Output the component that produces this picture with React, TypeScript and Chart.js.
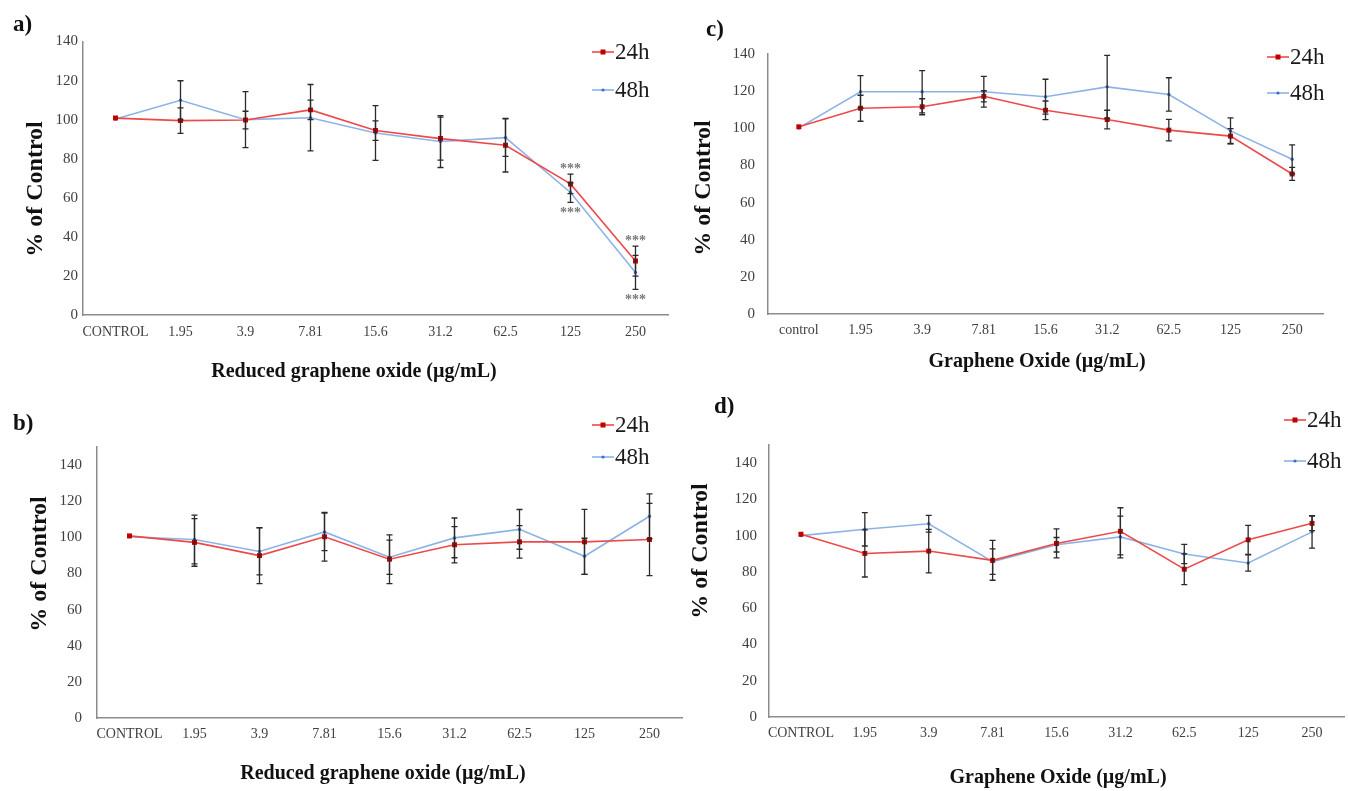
import React, { useEffect, useRef } from "react";
import { Chart, registerables } from "chart.js";

Chart.register(...registerables);

// ---------- DATA ----------
const CATS_UPPER = ["CONTROL", "1.95", "3.9", "7.81", "15.6", "31.2", "62.5", "125", "250"];
const CATS_LOWER = ["control", "1.95", "3.9", "7.81", "15.6", "31.2", "62.5", "125", "250"];
const SERIES = ["24h", "48h"];
const Y_STEP = 20;

// a) Reduced graphene oxide
const a24 = [100.8, 99.5, 99.8, 105.0, 94.4, 90.3, 86.9, 67.1, 27.6];
const a48 = [100.3, 109.9, 100.0, 101.0, 93.2, 88.8, 90.8, 62.7, 21.8];
const a24Err = [0, 6.5, 4.5, 5, 5, 11, 13.7, 5, 7.7];
const a48Err = [0, 10, 14.3, 17, 14, 13.3, 9.6, 5, 8.7];
const aStars = [7, 8];

// c) Graphene oxide
const c24 = [100.8, 110.8, 111.6, 117.2, 109.7, 104.7, 99.0, 95.8, 75.4];
const c48 = [100.2, 119.7, 119.7, 119.7, 117.0, 122.3, 118.2, 98.6, 83.3];
const c24Err = [0, 7, 4.3, 3, 5, 5, 5.8, 4, 3.5];
const c48Err = [0, 8.7, 11.4, 8.3, 9.4, 17, 9, 7, 7.8];

// b) Reduced graphene oxide
const b24 = [100.8, 97.2, 89.9, 100.3, 87.9, 95.9, 97.5, 97.5, 98.8];
const b48 = [100.3, 98.8, 92.2, 103.0, 89.0, 99.7, 104.4, 89.5, 111.7];
const b24Err = [0, 13.2, 15.5, 13.5, 13.5, 10, 9, 18, 20];
const b48Err = [0, 13.5, 13, 10.4, 9.5, 11, 11, 10, 12.4];

// d) Graphene oxide
const d24 = [100.8, 90.2, 91.5, 86.4, 95.7, 102.4, 81.5, 97.7, 106.8];
const d48 = [100.0, 103.5, 106.6, 85.7, 95.0, 99.3, 89.9, 84.9, 102.1];
const d24Err = [0, 13, 12, 11, 8, 13, 8.5, 8, 4];
const d48Err = [0, 9.2, 4.6, 7, 4, 11.5, 5.3, 4.5, 9];

// ---------- STYLE ----------
const SERIF = "'Liberation Serif', 'Times New Roman', serif";
const RED_LINE = "#ec4a4a";
const RED_PT = "#c00000";
const BLUE_LINE = "#8db3e6";
const BLUE_PT = "#3a6fd0";
const AXIS = "#8c8c8c";
const TICK = "#404040";
const ERR = "#2a2a2a";
const Y_W = 40;
const X_H = 30;

type Spec = {
  key: string;
  letter: string;
  labels: string[];
  s24: number[];
  s48: number[];
  e24: number[];
  e48: number[];
  stars: number[];
  yMax: number;
  canvas: { left: number; top: number; width: number; height: number };
  area: { l: number; r: number; t: number; b: number };
  yTickPad: number;
  xTickPad: number;
  yTitle: { x: number; y: number };
  xTitle: { text: string; x: number; y: number };
  letterPos: { x: number; y: number };
  legend: { x: number; y: number[] };
};

const PANELS: Spec[] = [
  {
    key: "a", letter: "a)", labels: CATS_UPPER, s24: a24, s48: a48, e24: a24Err, e48: a48Err, stars: aStars, yMax: 140,
    canvas: { left: 0, top: 0, width: 690, height: 395 },
    area: { l: 83, r: 668, t: 41.5, b: 315 },
    yTickPad: 5, xTickPad: 9,
    yTitle: { x: 36, y: 189 },
    xTitle: { text: "Reduced graphene oxide (µg/mL)", x: 354, y: 372 },
    letterPos: { x: 13, y: 25 },
    legend: { x: 592, y: [52, 90] },
  },
  {
    key: "c", letter: "c)", labels: CATS_LOWER, s24: c24, s48: c48, e24: c24Err, e48: c48Err, stars: [], yMax: 140,
    canvas: { left: 674, top: 0, width: 674, height: 395 },
    area: { l: 768, r: 1323, t: 54, b: 314 },
    yTickPad: 13, xTickPad: 8,
    yTitle: { x: 704, y: 188 },
    xTitle: { text: "Graphene Oxide (µg/mL)", x: 1037, y: 362 },
    letterPos: { x: 706, y: 30 },
    legend: { x: 1267, y: [57, 93] },
  },
  {
    key: "b", letter: "b)", labels: CATS_UPPER, s24: b24, s48: b48, e24: b24Err, e48: b48Err, stars: [], yMax: 150,
    canvas: { left: 0, top: 395, width: 700, height: 396 },
    area: { l: 97, r: 682, t: 447, b: 718 },
    yTickPad: 15, xTickPad: 8,
    yTitle: { x: 40, y: 564 },
    xTitle: { text: "Reduced graphene oxide (µg/mL)", x: 383, y: 774 },
    letterPos: { x: 13, y: 424 },
    legend: { x: 592, y: [425, 457] },
  },
  {
    key: "d", letter: "d)", labels: CATS_UPPER, s24: d24, s48: d48, e24: d24Err, e48: d48Err, stars: [], yMax: 150,
    canvas: { left: 674, top: 395, width: 674, height: 396 },
    area: { l: 769, r: 1347, t: 445, b: 717 },
    yTickPad: 12, xTickPad: 8,
    yTitle: { x: 701, y: 551 },
    xTitle: { text: "Graphene Oxide (µg/mL)", x: 1058, y: 778 },
    letterPos: { x: 714, y: 407 },
    legend: { x: 1284, y: [420, 461] },
  },
];

function Panel({ spec }: { spec: Spec }) {
  const ref = useRef<HTMLCanvasElement>(null);
  useEffect(() => {
    const s = spec;
    const ox = s.canvas.left;
    const oy = s.canvas.top;

    const deco = {
      id: "deco" + s.key,
      afterDatasetsDraw(chart: any) {
        const ctx = chart.ctx;
        const xs = chart.scales.x;
        const ys = chart.scales.y;
        ctx.save();
        ctx.strokeStyle = ERR;
        ctx.lineWidth = 1.3;
        const series: [number[], number[]][] = [
          [s.s24, s.e24],
          [s.s48, s.e48],
        ];
        series.forEach(([vals, errs]) => {
          vals.forEach((v, i) => {
            const e = errs[i];
            if (!e) return;
            const px = xs.getPixelForValue(i);
            const y1 = ys.getPixelForValue(v + e);
            const y2 = ys.getPixelForValue(v - e);
            ctx.beginPath();
            ctx.moveTo(px, y1);
            ctx.lineTo(px, y2);
            ctx.moveTo(px - 3, y1);
            ctx.lineTo(px + 3, y1);
            ctx.moveTo(px - 3, y2);
            ctx.lineTo(px + 3, y2);
            ctx.stroke();
          });
        });
        // significance stars
        ctx.fillStyle = "#7a7a7a";
        ctx.font = `bold 14px ${SERIF}`;
        ctx.textAlign = "center";
        ctx.textBaseline = "alphabetic";
        s.stars.forEach((i) => {
          const px = xs.getPixelForValue(i);
          const top = ys.getPixelForValue(s.s24[i] + s.e24[i]);
          const bot = ys.getPixelForValue(s.s48[i] - s.e48[i]);
          ctx.fillText("***", px, top - 1);
          ctx.fillText("***", px, bot + 15);
        });
        ctx.restore();
      },
      afterDraw(chart: any) {
        const ctx = chart.ctx;
        ctx.save();
        ctx.fillStyle = "#111";
        // y title
        ctx.font = `bold 24px ${SERIF}`;
        ctx.textAlign = "center";
        ctx.textBaseline = "middle";
        ctx.translate(s.yTitle.x - ox, s.yTitle.y - oy);
        ctx.rotate(-Math.PI / 2);
        ctx.fillText("% of Control", 0, 0);
        ctx.setTransform(1, 0, 0, 1, 0, 0);
        // x title
        ctx.font = `bold 20px ${SERIF}`;
        ctx.fillText(s.xTitle.text, s.xTitle.x - ox, s.xTitle.y - oy);
        // panel letter
        ctx.font = `bold 23px ${SERIF}`;
        ctx.textAlign = "left";
        ctx.fillText(s.letter, s.letterPos.x - ox, s.letterPos.y - oy);
        // legend
        const items = [
          { text: SERIES[0], line: RED_LINE, pt: RED_PT, rect: true },
          { text: SERIES[1], line: BLUE_LINE, pt: BLUE_PT, rect: false },
        ];
        items.forEach((it, k) => {
          const lx = s.legend.x - ox;
          const ly = s.legend.y[k] - oy;
          ctx.strokeStyle = it.line;
          ctx.lineWidth = 1.6;
          ctx.beginPath();
          ctx.moveTo(lx, ly);
          ctx.lineTo(lx + 22, ly);
          ctx.stroke();
          ctx.fillStyle = it.pt;
          if (it.rect) ctx.fillRect(lx + 11 - 2.5, ly - 2.5, 5, 5);
          else {
            ctx.beginPath();
            ctx.arc(lx + 11, ly, 1.6, 0, Math.PI * 2);
            ctx.fill();
          }
          ctx.fillStyle = "#1a1a1a";
          ctx.font = `23px ${SERIF}`;
          ctx.textAlign = "left";
          ctx.textBaseline = "middle";
          ctx.fillText(it.text, lx + 23, ly + 1);
        });
        ctx.restore();
      },
    };

    const chart = new Chart(ref.current as HTMLCanvasElement, {
      type: "line",
      data: {
        labels: s.labels,
        datasets: [
          {
            label: SERIES[0],
            data: s.s24,
            borderColor: RED_LINE,
            backgroundColor: RED_PT,
            pointBackgroundColor: RED_PT,
            pointBorderColor: RED_PT,
            pointBorderWidth: 0,
            pointStyle: "rect",
            pointRadius: 3.5,
            borderWidth: 1.6,
            tension: 0,
          },
          {
            label: SERIES[1],
            data: s.s48,
            borderColor: BLUE_LINE,
            backgroundColor: BLUE_PT,
            pointBackgroundColor: BLUE_PT,
            pointBorderColor: BLUE_PT,
            pointBorderWidth: 0,
            pointStyle: "circle",
            pointRadius: 1.7,
            borderWidth: 1.6,
            tension: 0,
          },
        ],
      },
      options: {
        responsive: false,
        animation: false,
        devicePixelRatio: 1,
        layout: {
          padding: {
            left: s.area.l - ox - Y_W,
            right: ox + s.canvas.width - s.area.r,
            top: s.area.t - oy,
            bottom: oy + s.canvas.height - s.area.b - X_H,
          },
        },
        plugins: {
          legend: { display: false },
          tooltip: { enabled: false },
          title: { display: false },
        },
        scales: {
          x: {
            type: "category",
            offset: true,
            grid: { display: false, drawTicks: false },
            border: { display: true, color: AXIS, width: 1.5 },
            ticks: {
              padding: s.xTickPad,
              color: TICK,
              font: { family: SERIF, size: 14 },
              maxRotation: 0,
              minRotation: 0,
              autoSkip: false,
            },
            afterFit: (sc: any) => {
              sc.height = X_H;
            },
          },
          y: {
            min: 0,
            max: s.yMax,
            grid: { display: false, drawTicks: false },
            border: { display: true, color: AXIS, width: 1.5 },
            ticks: {
              stepSize: Y_STEP,
              includeBounds: false,
              padding: s.yTickPad,
              color: TICK,
              font: { family: SERIF, size: 15 },
            },
            afterFit: (sc: any) => {
              sc.width = Y_W;
            },
          },
        },
      } as any,
      plugins: [deco],
    });
    return () => chart.destroy();
  }, [spec]);

  return (
    <canvas
      ref={ref}
      width={spec.canvas.width}
      height={spec.canvas.height}
      style={{
        position: "absolute",
        left: spec.canvas.left,
        top: spec.canvas.top,
        width: spec.canvas.width,
        height: spec.canvas.height,
      }}
    />
  );
}

export default function App() {
  return (
    <div
      style={{
        position: "absolute",
        left: 0,
        top: 0,
        width: 1348,
        height: 791,
        background: "#fff",
        overflow: "hidden",
      }}
    >
      {PANELS.map((p) => (
        <Panel key={p.key} spec={p} />
      ))}
    </div>
  );
}
